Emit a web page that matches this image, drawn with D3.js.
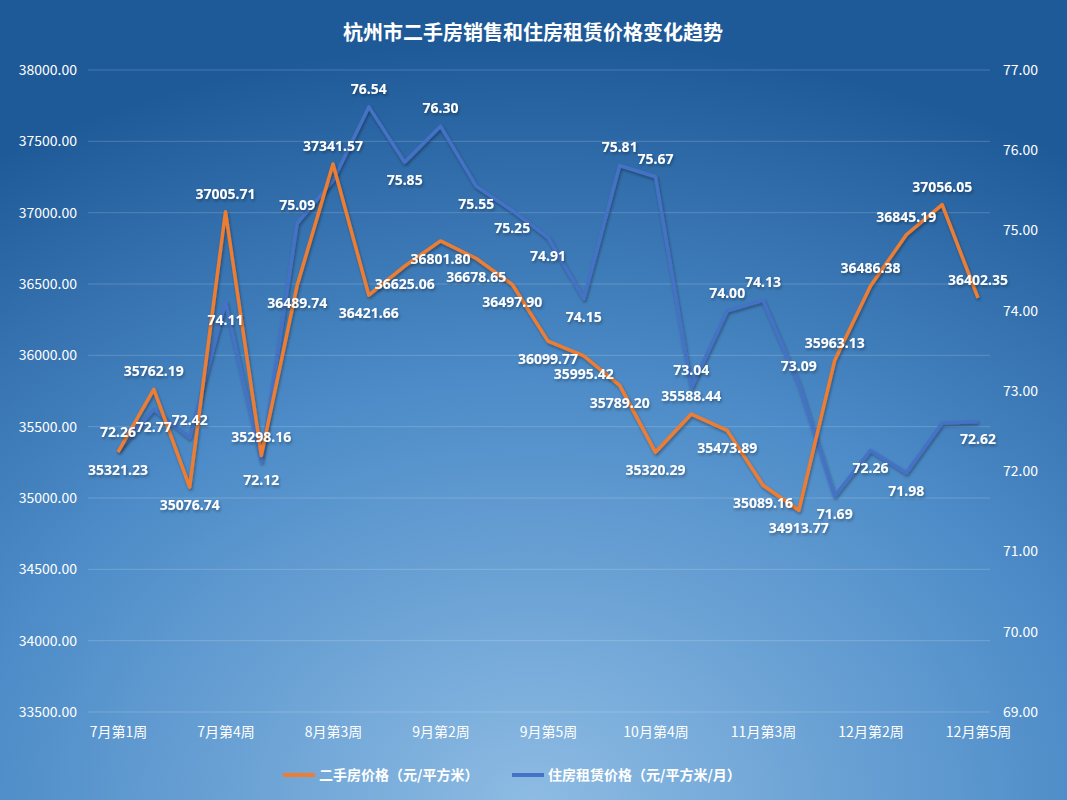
<!DOCTYPE html>
<html><head><meta charset="utf-8">
<script src="https://cdn.jsdelivr.net/npm/d3@7/dist/d3.min.js"></script>
<style>body{margin:0}svg{display:block;font-family:"Noto Sans CJK SC","Noto Sans",sans-serif}</style>
</head><body><svg id="c" width="1067" height="800"></svg>
<script>
const categories=["7月第1周","7月第2周","7月第3周","7月第4周","8月第1周","8月第2周","8月第3周","8月第4周","9月第1周","9月第2周","9月第3周","9月第4周","9月第5周","10月第2周","10月第3周","10月第4周","11月第1周","11月第2周","11月第3周","11月第4周","12月第1周","12月第2周","12月第3周","12月第4周","12月第5周"];
const salePrice=[35321.23,35762.19,35076.74,37005.71,35298.16,36489.74,37341.57,36421.66,36625.06,36801.80,36678.65,36497.90,36099.77,35995.42,35789.20,35320.29,35588.44,35473.89,35089.16,34913.77,35963.13,36486.38,36845.19,37056.05,36402.35];
const rentPrice=[72.26,72.77,72.42,74.11,72.12,75.09,75.62,76.54,75.85,76.30,75.55,75.25,74.91,74.15,75.81,75.67,73.04,74.00,74.13,73.09,71.69,72.26,71.98,72.60,72.62];
const saleLabelPos=["b","a","b","a","a","b","a","b","b","b","b","b","b","b","b","b","a","b","b","b","a","a","a","a","a"];
const rentLabelPos=["a","b","a","b","b","a","","a","b","a","b","b","b","b","a","a","a","a","a","a","b","b","b","","b"];
const leftTicks=[33500,34000,34500,35000,35500,36000,36500,37000,37500,38000];
const rightTicks=[69,70,71,72,73,74,75,76,77];
const seriesNames=["二手房价格（元/平方米）","住房租赁价格（元/平方米/月）"];
const colors=["#ed7d31","#4472c4"];

const svg=d3.select("#c");
const defs=svg.append("defs");
const g=defs.append("radialGradient").attr("id","bg").attr("cx","50%").attr("cy","100%").attr("r","95%");
g.append("stop").attr("offset","0%").attr("stop-color","#8dbbe3");
g.append("stop").attr("offset","55%").attr("stop-color","#4d8cc8");
g.append("stop").attr("offset","100%").attr("stop-color","#1f5a98");
const f=defs.append("filter").attr("id","sh").attr("x","-10%").attr("y","-10%").attr("width","120%").attr("height","120%");
f.append("feDropShadow").attr("dx",1).attr("dy",2).attr("stdDeviation",1.5).attr("flood-color","#000").attr("flood-opacity",0.35);
svg.append("rect").attr("width",1067).attr("height",800).attr("fill","url(#bg)");

const x=d3.scalePoint().domain(categories).range([118,978]);
const yL=d3.scaleLinear().domain([33500,38000]).range([712,70]);
const yR=d3.scaleLinear().domain([69,77]).range([712,70]);

svg.append("text").attr("x",533).attr("y",40).attr("text-anchor","middle").attr("fill","#fff").attr("font-size",20).attr("font-weight","bold").text("杭州市二手房销售和住房租赁价格变化趋势");

svg.append("g").selectAll("line").data(leftTicks).join("line").attr("x1",88).attr("x2",990).attr("y1",d=>yL(d)).attr("y2",d=>yL(d)).attr("stroke","rgba(255,255,255,0.18)");
const axL=svg.append("g").attr("transform","translate(80,0)").call(d3.axisLeft(yL).tickValues(leftTicks).tickFormat(d3.format(".2f")).tickSize(0));
const axR=svg.append("g").attr("transform","translate(1000,0)").call(d3.axisRight(yR).tickValues(rightTicks).tickFormat(d3.format(".2f")).tickSize(0));
const axB=svg.append("g").attr("transform","translate(0,712)").call(d3.axisBottom(x).tickValues(categories.filter((d,i)=>i%3===0)).tickSize(0));
[axL,axR,axB].forEach(a=>{a.select(".domain").remove();a.selectAll("text").attr("fill","#fff").attr("font-size",14).style("font-family","'Noto Sans CJK SC',sans-serif");});
axB.selectAll("text").attr("dy","1.6em");

function line(vals,y,col){
  svg.append("path").datum(vals).attr("fill","none").attr("stroke",col).attr("stroke-width",3.5).attr("stroke-linejoin","round").attr("filter","url(#sh)")
    .attr("d",d3.line().x((d,i)=>x(categories[i])).y(d=>y(d)));
}
function labels(vals,y,pos,fmt){
  svg.append("g").selectAll("text").data(vals.map((v,i)=>({v,i})).filter(d=>pos[d.i])).join("text")
    .attr("x",d=>x(categories[d.i])).attr("y",d=>y(d.v)+(pos[d.i]==="a"?-13:23))
    .attr("text-anchor","middle").attr("fill","#fff").attr("font-size",14).attr("font-weight","bold").attr("filter","url(#sh)")
    .style("font-family","'Noto Sans',sans-serif").text(d=>fmt(d.v));
}
line(rentPrice,yR,colors[1]);
line(salePrice,yL,colors[0]);
labels(salePrice,yL,saleLabelPos,d3.format(".2f"));
labels(rentPrice,yR,rentLabelPos,d3.format(".2f"));

const lg=svg.append("g").selectAll("g").data(seriesNames).join("g").attr("transform",(d,i)=>`translate(${i?512:283},775)`);
lg.append("line").attr("x1",0).attr("x2",32).attr("stroke",(d,i)=>colors[i]).attr("stroke-width",4);
lg.append("text").attr("x",36).attr("dy","0.35em").attr("fill","#fff").attr("font-size",14).attr("font-weight","bold").text(d=>d);
</script></body></html>
